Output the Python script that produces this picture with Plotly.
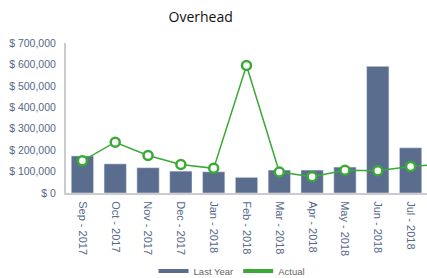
import plotly.graph_objects as go

months = ["Sep - 2017", "Oct - 2017", "Nov - 2017", "Dec - 2017", "Jan - 2018", "Feb - 2018",
          "Mar - 2018", "Apr - 2018", "May - 2018", "Jun - 2018", "Jul - 2018"]
last_year = [173000, 136000, 118000, 102000, 99000, 73000, 107000, 107000, 121000, 591000, 211000]
actual_months = months + ["Aug - 2018"]
actual = [150000, 237000, 175000, 133000, 115000, 595000, 98000, 76000, 106000, 104000, 124000, 136000]
y_ticks = [0, 100000, 200000, 300000, 400000, 500000, 600000, 700000]
y_labels = ["$ 0", "$ 100,000", "$ 200,000", "$ 300,000", "$ 400,000", "$ 500,000", "$ 600,000", "$ 700,000"]

bar_color = "#5b6d8e"
green = "#3aa936"
tick_color = "#56678a"

fig = go.Figure()
fig.add_trace(go.Bar(x=months, y=last_year, marker=dict(color=bar_color), width=0.68,
                     name="Last Year", showlegend=False))
fig.add_trace(go.Scatter(x=actual_months, y=actual, mode="lines+markers", name="Actual",
                         line=dict(color=green, width=1.5), showlegend=False,
                         marker=dict(size=9, color="white", line=dict(color=green, width=2.5)),
                         cliponaxis=True))
# legend-only entries (line swatches, as in the reference)
fig.add_trace(go.Scatter(x=[None], y=[None], mode="lines", line=dict(color=bar_color, width=4),
                         name="Last Year"))
fig.add_trace(go.Scatter(x=[None], y=[None], mode="lines", line=dict(color=green, width=4),
                         name="Actual"))

fig.update_layout(
    width=427, height=278,
    margin=dict(l=66, r=0, t=43, b=85, autoexpand=False),
    paper_bgcolor="white", plot_bgcolor="white",
    title=dict(text="Overhead", x=0.47, xanchor="center", y=0.94, yanchor="middle",
               font=dict(family="Open Sans", size=14, color="#111111")),
    font=dict(family="Liberation Sans", size=10, color=tick_color),
    showlegend=True,
    legend=dict(orientation="h", x=0.46, xanchor="center", y=-0.52, yanchor="middle",
                font=dict(size=9.5, color="#666666"), tracegroupgap=0),
    bargap=0.32,
)
fig.update_xaxes(type="category", categoryorder="array", categoryarray=actual_months,
                 range=[-0.5, 10.5], tickangle=90, showline=True, linecolor="#cccccc",
                 linewidth=2, showgrid=False, ticks="", ticklabelstandoff=4, automargin=False,
                 tickfont=dict(size=11, color=tick_color))
fig.update_yaxes(range=[0, 700000], tickvals=y_ticks, ticktext=y_labels, showline=True,
                 linecolor="#cccccc", linewidth=2, showgrid=False, zeroline=False,
                 ticks="", ticklabelstandoff=6, automargin=False,
                 tickfont=dict(size=10.5, color=tick_color))

fig.write_html("out.html", config={"displayModeBar": False},
               post_script="document.body.style.margin='0';document.body.style.overflow='hidden';")
